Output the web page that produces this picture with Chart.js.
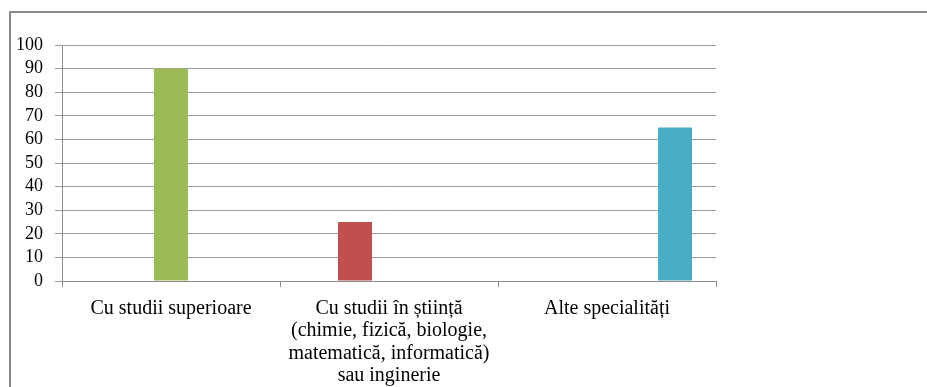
<!DOCTYPE html>
<html>
<head>
<meta charset="utf-8">
<script src="https://cdn.jsdelivr.net/npm/chart.js@4"></script>
<style>
  html, body { margin: 0; padding: 0; background: #fff; overflow: hidden; }
  #wrap { position: relative; width: 927px; height: 387px; }
  #frame {
    position: absolute; left: 9px; top: 11px; width: 1000px; height: 500px;
    border: 2px solid #898989;
  }
  #myChart { position: absolute; left: 0; top: 0; }
</style>
</head>
<body>
<div id="wrap">
  <div id="frame"></div>
  <canvas id="myChart" width="927" height="387"></canvas>
</div>
<script>
// categories on the x axis (multi-line labels)
var categories = [
    'Cu studii superioare',
    ['Cu studii în știință', '(chimie, fizică, biologie,', 'matematică, informatică)', 'sau inginerie'],
    'Alte specialități'
];

// one value per category, each series only filled where it has a bar
var seriesSuperioare = [90, null, null];
var seriesStiinta = [null, 25, null];
var seriesAlte = [null, null, 65];
var emptySeries = [null, null, null];

var yTicks = [0, 10, 20, 30, 40, 50, 60, 70, 80, 90, 100];

var serif = '"Liberation Serif", "Times New Roman", serif';

var ctx = document.getElementById('myChart').getContext('2d');
var myChart = new Chart(ctx, {
    type: 'bar',
    data: {
        labels: categories,
        datasets: [
            { label: 'Serie 1', data: emptySeries, backgroundColor: '#4f81bd' },
            { label: 'Serie 2', data: seriesStiinta, backgroundColor: '#c0504d' },
            { label: 'Serie 3', data: seriesSuperioare, backgroundColor: '#9bbb59' },
            { label: 'Serie 4', data: emptySeries, backgroundColor: '#8064a2' },
            { label: 'Serie 5', data: seriesAlte, backgroundColor: '#4bacc6' }
        ]
    },
    options: {
        responsive: false,
        animation: false,
        layout: { padding: { left: 0, top: 45, right: 211, bottom: 0 } },
        datasets: {
            bar: { categoryPercentage: 0.78, barPercentage: 1.0 }
        },
        scales: {
            x: {
                grid: {
                    offset: true,
                    drawOnChartArea: false,
                    color: '#8c8c8c',
                    tickLength: 6
                },
                border: { color: '#8c8c8c', width: 1 },
                ticks: {
                    color: '#000',
                    maxRotation: 0,
                    autoSkip: false,
                    padding: 10,
                    font: { family: serif, size: 20, lineHeight: 1.13 }
                },
                afterFit: function (scale) { scale.height = 106; }
            },
            y: {
                min: 0,
                max: 100,
                afterBuildTicks: function (scale) {
                    scale.ticks = yTicks.map(function (v) { return { value: v }; });
                },
                grid: {
                    color: '#9a9a9a',
                    tickLength: 7
                },
                border: { color: '#8c8c8c', width: 1 },
                ticks: {
                    color: '#000',
                    autoSkip: false,
                    padding: 12,
                    font: { family: serif, size: 18 }
                },
                afterFit: function (scale) { scale.width = 62; }
            }
        },
        plugins: {
            legend: { display: false },
            tooltip: { enabled: false }
        }
    }
});
</script>
</body>
</html>
